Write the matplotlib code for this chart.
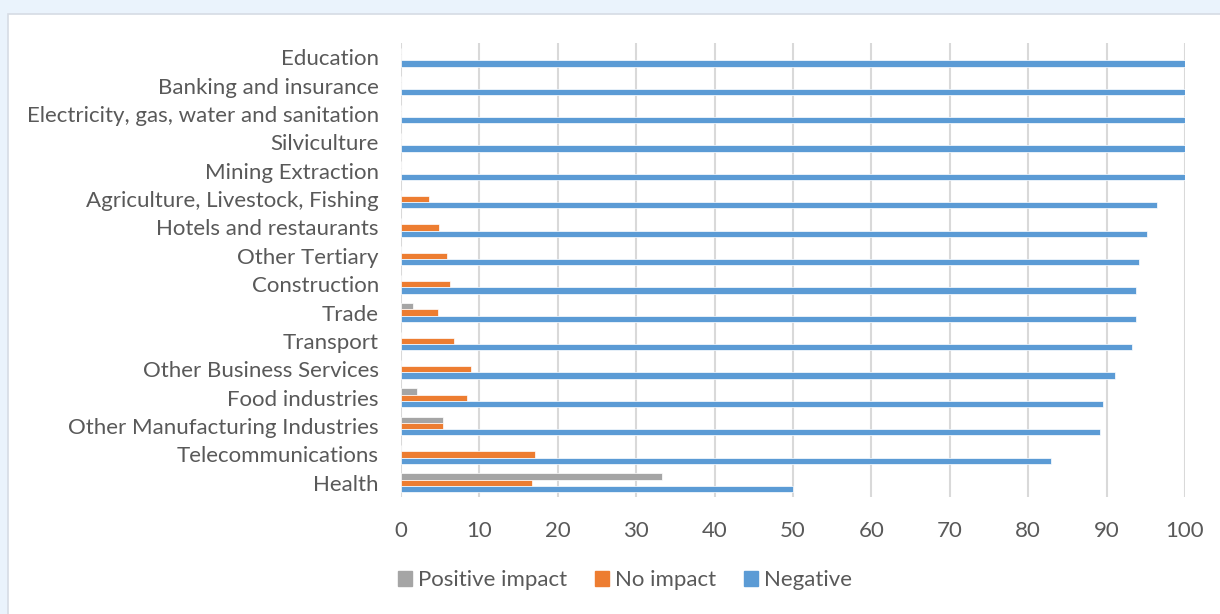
import matplotlib
matplotlib.use("Agg")
import matplotlib.pyplot as plt
from matplotlib.patches import Rectangle, Patch
import numpy as np

plt.rcParams['font.family'] = ['Lato', 'DejaVu Sans']

# categories, bottom to top
sectors = [
    'Health', 'Telecommunications', 'Other Manufacturing Industries',
    'Food industries', 'Other Business Services', 'Transport', 'Trade',
    'Construction', 'Other Tertiary', 'Hotels and restaurants',
    'Agriculture, Livestock, Fishing', 'Mining Extraction', 'Silviculture',
    'Electricity, gas, water and sanitation', 'Banking and insurance',
    'Education',
]
positive = [33.3, 0, 5.4, 2.1, 0, 0, 1.5, 0, 0, 0, 0, 0, 0, 0, 0, 0]
no_impact = [16.7, 17.1, 5.4, 8.4, 8.9, 6.7, 4.7, 6.2, 5.9, 4.8, 3.6, 0, 0, 0, 0, 0]
negative = [50.0, 82.9, 89.2, 89.5, 91.1, 93.3, 93.8, 93.8, 94.1, 95.2, 96.4, 100, 100, 100, 100, 100]
xticks = [0, 10, 20, 30, 40, 50, 60, 70, 80, 90, 100]

text_col = '#595959'
grid_col = '#D9D9D9'
fs = 16

fig = plt.figure(figsize=(12.2, 6.14), dpi=100)
fig.patch.set_facecolor('#EAF3FC')
fig.patches.append(Rectangle((8 / 1220, -0.1), 1.1, 1 - 14 / 614 + 0.1,
                             transform=fig.transFigure, facecolor='white',
                             edgecolor='#D6DCE4', linewidth=1.2, zorder=0))

ax = fig.add_axes([401 / 1220, 1 - 497 / 614, (1185 - 401) / 1220, (497 - 43) / 614])
ax.set_zorder(2)
ax.set_facecolor('white')

y = np.arange(len(sectors))
h = 0.22
ax.barh(y + h, positive, height=h, color='#A5A5A5', edgecolor='white', linewidth=0.5, label='Positive impact', zorder=3)
ax.barh(y, no_impact, height=h, color='#ED7D31', edgecolor='white', linewidth=0.5, label='No impact', zorder=3)
ax.barh(y - h, negative, height=h, color='#5B9BD5', edgecolor='white', linewidth=0.5, label='Negative', zorder=3)

ax.set_xlim(0, 100)
ax.set_ylim(-0.5, len(sectors) - 0.5)
ax.set_xticks(xticks)
ax.set_yticks(y)
ax.set_yticklabels(sectors)
ax.tick_params(axis='y', length=0, pad=16, labelsize=fs, labelcolor=text_col)
ax.tick_params(axis='x', length=0, pad=17, labelsize=fs, labelcolor=text_col)
ax.grid(axis='x', color=grid_col, linewidth=1.5, zorder=0)
for s in ax.spines.values():
    s.set_visible(False)

handles = [Patch(color='#A5A5A5'), Patch(color='#ED7D31'), Patch(color='#5B9BD5')]
leg = fig.legend(handles, ['Positive impact', 'No impact', 'Negative'], loc='center',
                 bbox_to_anchor=(0.512, 1 - 580 / 614), ncol=3, frameon=False,
                 handlelength=0.65, handleheight=0.65, handletextpad=0.25, columnspacing=1.25,
                 fontsize=fs, labelcolor=text_col)
leg.set_zorder(3)

fig.savefig('out.png', dpi=100, facecolor=fig.get_facecolor())
